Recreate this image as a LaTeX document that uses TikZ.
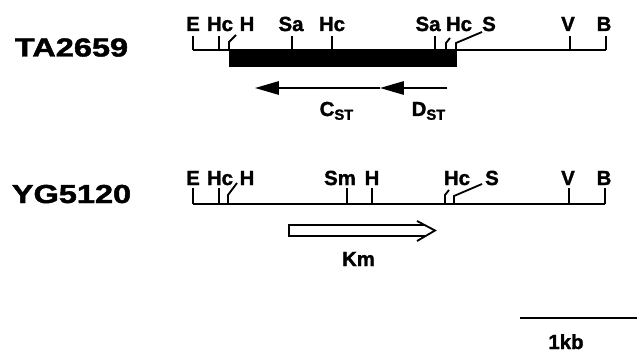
\documentclass[tikz,border=0pt]{standalone}
\usepackage{fontspec}
\setmainfont{Liberation Sans}[BoldFeatures={FakeBold=1.5}]
\usepackage{graphicx}
\usepackage{tikz}
\usetikzlibrary{arrows.meta, positioning}

\tikzset{
  site/.style={font=\fontsize{14.5}{14.5}\selectfont\bfseries, anchor=base, inner sep=0pt},
  strain/.style={font=\fontsize{18.5}{18.5}\selectfont\bfseries, anchor=base, inner sep=0pt},
  gene/.style={-{Triangle[length=17pt,width=9.5pt]}}
}
\newcommand{\sub}[1]{\raisebox{-0.35ex}{\fontsize{10.5}{10.5}\selectfont #1}}

\begin{document}
\begin{tikzpicture}[x=0.25cm, y=0.25cm, line width=1.3pt]
\useasboundingbox (0,0) rectangle (64.1,35.2);

% Strain names
\node[strain] (ta) at (7.15,29.55) {\scalebox{1.25}[1]{TA2659}};
\node[strain] (yg) at (7.15,14.9) {\scalebox{1.25}[1]{YG5120}};

% TA2659 map
\draw (19.3,30.2) -- (60.6,30.2);
\fill (22.9,28.45) rectangle (45.7,30.2);
\foreach \x/\lx/\lab/\nm in {19.3/19.3/E/e, 21.9/22.0/Hc/hc1, 29.2/29.1/Sa/sa1,
    33.2/33.2/Hc/hc2, 43.5/42.8/Sa/sa2, 57.0/56.8/V/v, 60.6/60.4/B/b} {
    \draw (\x,30.2) -- (\x,31.6);
    \node[site] (ta-\nm) at (\lx,32.1) {\lab};
}
\draw (22.9,30.2) -- (22.9,31.0) -- (23.6,31.7);
\draw (44.6,30.2) -- (44.6,30.9) -- (45.0,31.4);
\draw (45.6,30.2) -- (45.6,30.9) -- (48.2,32.0);
\node[site] (ta-h) at (24.7,32.1) {H};
\node[site] (ta-hc3) at (45.9,32.1) {Hc};
\node[site] (ta-s) at (48.9,32.1) {S};

% C_ST and D_ST genes
\coordinate (dstart) at (44.7,26.4);
\coordinate (dtip) at (38.0,26.4);
\coordinate (ctip) at (25.5,26.4);
\draw[gene] (dstart) -- (dtip);
\draw[gene] (dtip) -- (ctip);
\node[site] (cst) at (33.65,23.6) {C\sub{ST}};
\node[site] (dst) at (42.85,23.6) {D\sub{ST}};

% YG5120 map
\draw (19.3,14.8) -- (60.5,14.8);
\foreach \x/\lx/\lab/\nm in {19.3/19.3/E/e, 21.9/22.0/Hc/hc1, 34.7/34.0/Sm/sm,
    37.2/37.2/H/h2, 56.9/56.8/V/v, 60.5/60.4/B/b} {
    \draw (\x,14.8) -- (\x,16.4);
    \node[site] (yg-\nm) at (\lx,16.7) {\lab};
}
\draw (22.8,14.8) -- (22.8,15.7) -- (23.7,16.9);
\draw (44.5,14.8) -- (44.5,15.7) -- (44.9,16.2);
\draw (45.4,14.8) -- (45.4,15.6) -- (48.2,16.8);
\node[site] (yg-h1) at (24.7,16.7) {H};
\node[site] (yg-hc2) at (45.7,16.7) {Hc};
\node[site] (yg-s) at (49.2,16.7) {S};

% Km cassette
\draw (42.5,12.7) -- (28.9,12.7) -- (28.9,11.6) -- (42.5,11.6);
\draw (41.7,13.1) -- (43.5,12.15) -- (41.7,11.1);
\node[site] (km) at (35.85,8.6) {Km};

% Scale bar
\draw (52.0,3.4) -- (63.7,3.4);
\node[site] (kb) at (56.6,0.3) {1kb};
\end{tikzpicture}
\end{document}
